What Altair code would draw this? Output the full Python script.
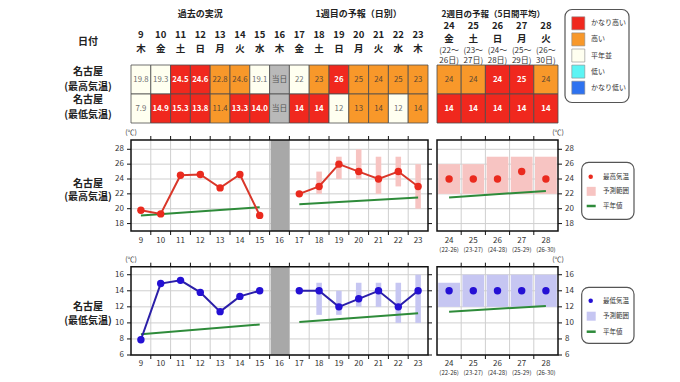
import altair as alt
import pandas as pd

FONT = "Noto Sans CJK JP"

# ---------------- values ----------------
past_days = [9, 10, 11, 12, 13, 14, 15]
today_day = 16
fc_days = [17, 18, 19, 20, 21, 22, 23]
wk2_days = [24, 25, 26, 27, 28]
wk2_from = [22, 23, 24, 25, 26]
wk2_to = [26, 27, 28, 29, 30]
weekdays_wk1 = ["木", "金", "土", "日", "月", "火", "水", "木", "金", "土", "日", "月", "火", "水", "木"]
weekdays_wk2 = ["金", "土", "日", "月", "火"]

max_obs = [19.8, 19.3, 24.5, 24.6, 22.8, 24.6, 19.1]
min_obs = [7.9, 14.9, 15.3, 13.8, 11.4, 13.3, 14.0]
max_fc = [22, 23, 26, 25, 24, 25, 23]
min_fc = [14, 14, 12, 13, 14, 12, 14]
max_fc_lo = [None, 22, 24, 24, 22, 23, 20]
max_fc_hi = [None, 25, 27, 28, 27, 27, 26]
min_fc_lo = [None, 11, 11, 12, 12, 10, 10]
min_fc_hi = [None, 15, 14, 15, 15, 15, 16]
max_wk2 = [24, 24, 24, 25, 24]
max_wk2_lo = [22, 22, 22, 22, 22]
max_wk2_hi = [26, 26, 27, 27, 27]
min_wk2 = [14, 14, 14, 14, 14]
min_wk2_lo = [12, 12, 12, 12, 12]
min_wk2_hi = [15, 16, 16, 16, 16]

# normal values (first and last day of each period)
max_norm_past = [19.1, 20.2]
max_norm_wk1 = [20.6, 21.5]
max_norm_wk2 = [21.5, 22.4]
min_norm_past = [8.6, 9.8]
min_norm_wk1 = [10.1, 11.2]
min_norm_wk2 = [11.4, 12.1]

cat_names = ["かなり高い", "高い", "平年並", "低い", "かなり低い"]
today_name = "当日"
max_cls_past = ["平年並", "平年並", "かなり高い", "かなり高い", "高い", "高い", "平年並"]
max_cls_fc = ["平年並", "高い", "かなり高い", "高い", "高い", "高い", "高い"]
min_cls_past = ["平年並", "かなり高い", "かなり高い", "かなり高い", "高い", "かなり高い", "かなり高い"]
min_cls_fc = ["かなり高い", "かなり高い", "平年並", "高い", "高い", "平年並", "高い"]
max_cls_wk2 = ["高い", "高い", "かなり高い", "かなり高い", "高い"]
min_cls_wk2 = ["かなり高い", "かなり高い", "かなり高い", "かなり高い", "かなり高い"]

station = "名古屋"
elem_max = "(最高気温)"
elem_min = "(最低気温)"
leg_max = ["最高気温", "予測範囲", "平年値"]
leg_min = ["最低気温", "予測範囲", "平年値"]

# ---------------- styles / layout ----------------
CELL_COLORS = ["#F0281E", "#F8982A", "#FFFFF0", "#5CF4F4", "#2E72F0", "#B9B9B9"]
TEXT_COLORS = ["#FFFFFF", "#5B4632", "#707070", "#333333", "#FFFFFF", "#555555"]
FILL_SCALE = alt.Scale(domain=cat_names + [today_name], range=CELL_COLORS)
TEXT_SCALE = alt.Scale(domain=cat_names + [today_name], range=TEXT_COLORS)
GRID = "#cfcfcf"
FRAME = "#111111"
AXT = "#333333"
GREEN = "#2E8B3A"
TODAY_BAND = "#A8A8A8"
RED_LINE, RED_PT, RED_RNG = "#D9372A", "#EA2A1E", "#F7C4C2"
BLU_LINE, BLU_PT, BLU_RNG = "#2B1FA8", "#2410D4", "#C6C6F2"

W0, W1, W2, W3, GAP, H = 114, 297, 121, 105, 9, 366
X1_DOM = [8.5, 23.5]
X2_DOM = [23.5, 28.5]
TBL_DOM, TBL_RNG = [0, 2], [57, 115]
UP_DOM, UP_RNG = [17, 29.25], [223, 132]
LO_DOM, LO_RNG = [6, 17], [347, 258.7]
UP_TICKS = [18, 20, 22, 24, 26, 28]
LO_TICKS = [6, 8, 10, 12, 14, 16]


def lin(dom, rng=None):
    kw = dict(domain=dom, nice=False, zero=False)
    if rng is not None:
        kw["range"] = rng
    return alt.Scale(**kw)


def table_df(days, max_cls, max_lab, min_cls, min_lab):
    recs = []
    for r, (cls, lab) in enumerate([(max_cls, max_lab), (min_cls, min_lab)]):
        for d, c, l in zip(days, cls, lab):
            recs.append({"day": d, "r": r, "cls": c, "lab": l})
    return pd.DataFrame(recs)


def table_layers(df, xsc):
    ysc = lin(TBL_DOM, TBL_RNG)
    base = alt.Chart(df).transform_calculate(
        x0="datum.day - 0.5", x1="datum.day + 0.5",
        y0="datum.r", y1="datum.r + 1", yc="datum.r + 0.5")
    rect = base.mark_rect(stroke="#4d4d4d", strokeWidth=0.8).encode(
        x=alt.X("x0:Q", scale=xsc, axis=None), x2="x1:Q",
        y=alt.Y("y0:Q", scale=ysc, axis=None), y2="y1:Q",
        fill=alt.Fill("cls:N", scale=FILL_SCALE, legend=None))

    def txt(bold):
        f = "datum.cls == 'かなり高い'" if bold else "datum.cls != 'かなり高い'"
        return base.transform_filter(f).mark_text(
            font=FONT, fontSize=7.8, fontWeight="bold" if bold else "normal").encode(
            x=alt.X("day:Q", scale=xsc, axis=None),
            y=alt.Y("yc:Q", scale=ysc, axis=None), text="lab:N",
            color=alt.Color("cls:N", scale=TEXT_SCALE, legend=None))
    return [rect, txt(True), txt(False)]


def panel(xsc, xdom, ydom, yrng, yticks, days_lab, sublab, line_df, pts_df,
          rng_df, halfw, norm_df, col_line, col_pt, col_rng, side, lab_dy,
          today=None, left_ticks=True, right_ticks=True):
    ysc = lin(ydom, yrng)
    X = lambda f: alt.X(f, scale=xsc, axis=None)
    Y = lambda f: alt.Y(f, scale=ysc, axis=None)
    L = []
    vgrid = [d + 0.5 for d in days_lab[:-1]]
    gv = pd.DataFrame({"g": vgrid, "y0": ydom[0], "y1": ydom[1]})
    L.append(alt.Chart(gv).mark_rule(color=GRID, strokeWidth=1).encode(
        x=X("g:Q"), y=Y("y0:Q"), y2="y1:Q"))
    gh = pd.DataFrame({"v": yticks, "x0": xdom[0], "x1": xdom[1]})
    L.append(alt.Chart(gh).mark_rule(color=GRID, strokeWidth=1).encode(
        x=X("x0:Q"), x2="x1:Q", y=Y("v:Q")))
    if today is not None:
        tb = pd.DataFrame({"d": [today], "y0": [ydom[0]], "y1": [ydom[1]]})
        L.append(alt.Chart(tb).transform_calculate(
            x0="datum.d - 0.45", x1="datum.d + 0.5").mark_rect(color=TODAY_BAND).encode(
            x=X("x0:Q"), x2="x1:Q", y=Y("y0:Q"), y2="y1:Q"))
    L.append(alt.Chart(rng_df).transform_calculate(
        x0=f"datum.day - {halfw}", x1=f"datum.day + {halfw}").mark_rect(
        color=col_rng, opacity=1).encode(x=X("x0:Q"), x2="x1:Q", y=Y("lo:Q"), y2="hi:Q"))
    L.append(alt.Chart(norm_df).mark_line(color=GREEN, strokeWidth=2).encode(
        x=X("day:Q"), y=Y("v:Q"), detail="seg:N"))
    if line_df is not None:
        L.append(alt.Chart(line_df).mark_line(color=col_line, strokeWidth=2).encode(
            x=X("day:Q"), y=Y("v:Q"), detail="seg:N"))
    L.append(alt.Chart(pts_df).mark_circle(color=col_pt, size=55, opacity=1).encode(
        x=X("day:Q"), y=Y("v:Q")))
    fr = pd.DataFrame({"x0": [xdom[0]], "x1": [xdom[1]], "y0": [ydom[0]], "y1": [ydom[1]]})
    L.append(alt.Chart(fr).mark_rect(fillOpacity=0, stroke=FRAME, strokeWidth=1.5).encode(
        x=X("x0:Q"), x2="x1:Q", y=Y("y0:Q"), y2="y1:Q"))
    tk = pd.DataFrame({"g": vgrid, "yt": ydom[1], "yb": ydom[0]})
    L.append(alt.Chart(tk).mark_rule(color=FRAME, y2Offset=-4).encode(
        x=X("g:Q"), y=Y("yt:Q"), y2="yt:Q"))
    L.append(alt.Chart(tk).mark_rule(color=FRAME, y2Offset=4).encode(
        x=X("g:Q"), y=Y("yb:Q"), y2="yb:Q"))
    yt = pd.DataFrame({"v": yticks, "xl": xdom[0], "xr": xdom[1]})
    if left_ticks:
        L.append(alt.Chart(yt).mark_rule(color=FRAME, x2Offset=-4).encode(
            x=X("xl:Q"), x2="xl:Q", y=Y("v:Q")))
    if right_ticks:
        L.append(alt.Chart(yt).mark_rule(color=FRAME, x2Offset=4).encode(
            x=X("xr:Q"), x2="xr:Q", y=Y("v:Q")))
    if side == "left":
        L.append(alt.Chart(yt).mark_text(font=FONT, fontSize=8, color=AXT, align="right", dx=-7).encode(
            x=X("xl:Q"), y=Y("v:Q"), text=alt.Text("v:Q", format="d")))
        unit_x = "xl"
    else:
        L.append(alt.Chart(yt).mark_text(font=FONT, fontSize=8, color=AXT, align="left", dx=7).encode(
            x=X("xr:Q"), y=Y("v:Q"), text=alt.Text("v:Q", format="d")))
        unit_x = "xr"
    un = pd.DataFrame({"xl": [xdom[0]], "xr": [xdom[1]], "y": [ydom[1]], "t": ["(℃)"]})
    L.append(alt.Chart(un).mark_text(font=FONT, fontSize=7, color=AXT, dy=-7).encode(
        x=X(f"{unit_x}:Q"), y=Y("y:Q"), text="t:N"))
    xl = pd.DataFrame({"day": days_lab, "yb": ydom[0]})
    L.append(alt.Chart(xl).mark_text(font=FONT, fontSize=8, color=AXT, dy=lab_dy).encode(
        x=X("day:Q"), y=Y("yb:Q"), text=alt.Text("day:Q", format="d")))
    if sublab is not None:
        sl = pd.DataFrame({"day": days_lab, "yb": ydom[0], "s": sublab})
        L.append(alt.Chart(sl).mark_text(font=FONT, fontSize=6, color=AXT, dy=lab_dy + 9).encode(
            x=X("day:Q"), y=Y("yb:Q"), text="s:N"))
    return L


def series_df(parts):
    recs = []
    for seg, days, vals in parts:
        for d, v in zip(days, vals):
            recs.append({"day": d, "v": v, "seg": seg})
    return pd.DataFrame(recs)


def range_df(days, lo, hi):
    return pd.DataFrame([{"day": d, "lo": a, "hi": b} for d, a, b in zip(days, lo, hi) if a is not None])


def ends(days):
    return [days[0], days[-1]]


# ---------------- column 1: past + week 1 ----------------
xs1 = lin(X1_DOM)
wk1_days = past_days + [today_day] + fc_days
c1_layers = []
c1_layers += table_layers(table_df(
    wk1_days,
    max_cls_past + [today_name] + max_cls_fc,
    [f"{v:.1f}" for v in max_obs] + [today_name] + [f"{v}" for v in max_fc],
    min_cls_past + [today_name] + min_cls_fc,
    [f"{v:.1f}" for v in min_obs] + [today_name] + [f"{v}" for v in min_fc]), xs1)
hdr1 = pd.DataFrame({"x": [sum(past_days) / len(past_days), sum(fc_days) / len(fc_days)],
                     "t": ["過去の実況", "1週目の予報（日別）"]})
c1_layers.append(alt.Chart(hdr1).mark_text(font=FONT, fontSize=9, fontWeight="bold", color="#222").encode(
    x=alt.X("x:Q", scale=xs1, axis=None), y=alt.value(5.8), text="t:N"))
dn1 = pd.DataFrame({"day": wk1_days, "wd": weekdays_wk1})
c1_layers.append(alt.Chart(dn1).mark_text(font=FONT, fontSize=9.5, fontWeight="bold", color="#222").encode(
    x=alt.X("day:Q", scale=xs1, axis=None), y=alt.value(27.3), text=alt.Text("day:Q", format="d")))
c1_layers.append(alt.Chart(dn1).mark_text(font=FONT, fontSize=9.5, fontWeight="bold", color="#222").encode(
    x=alt.X("day:Q", scale=xs1, axis=None), y=alt.value(40.7), text="wd:N"))

c1_layers += panel(
    xs1, X1_DOM, UP_DOM, UP_RNG, UP_TICKS, wk1_days, None,
    series_df([("obs", past_days, max_obs), ("fc", fc_days, max_fc)]),
    series_df([("obs", past_days, max_obs), ("fc", fc_days, max_fc)]),
    range_df(fc_days, max_fc_lo, max_fc_hi), 0.14,
    series_df([("p", ends(past_days), max_norm_past), ("w", ends(fc_days), max_norm_wk1)]),
    RED_LINE, RED_PT, RED_RNG, "left", 9.5, today=today_day)
c1_layers += panel(
    xs1, X1_DOM, LO_DOM, LO_RNG, LO_TICKS, wk1_days, None,
    series_df([("obs", past_days, min_obs), ("fc", fc_days, min_fc)]),
    series_df([("obs", past_days, min_obs), ("fc", fc_days, min_fc)]),
    range_df(fc_days, min_fc_lo, min_fc_hi), 0.14,
    series_df([("p", ends(past_days), min_norm_past), ("w", ends(fc_days), min_norm_wk1)]),
    BLU_LINE, BLU_PT, BLU_RNG, "left", 8.5, today=today_day)

# ---------------- column 2: week 2 ----------------
xs2 = lin(X2_DOM)
c2_layers = []
c2_layers += table_layers(table_df(
    wk2_days, max_cls_wk2, [f"{v}" for v in max_wk2],
    min_cls_wk2, [f"{v}" for v in min_wk2]), xs2)
hdr2 = pd.DataFrame({"x": [X2_DOM[0]], "t": ["2週目の予報（5日間平均）"]})
c2_layers.append(alt.Chart(hdr2).mark_text(font=FONT, fontSize=8.5, fontWeight="bold", color="#222",
                                           align="left", dx=4.5).encode(
    x=alt.X("x:Q", scale=xs2, axis=None), y=alt.value(5.5), text="t:N"))
dn2 = pd.DataFrame({"day": wk2_days, "wd": weekdays_wk2,
                    "a": [f"({s}～" for s in wk2_from], "b": [f"{e}日)" for e in wk2_to]})
c2_layers.append(alt.Chart(dn2).mark_text(font=FONT, fontSize=9.5, fontWeight="bold", color="#222").encode(
    x=alt.X("day:Q", scale=xs2, axis=None), y=alt.value(18.4), text=alt.Text("day:Q", format="d")))
c2_layers.append(alt.Chart(dn2).mark_text(font=FONT, fontSize=9.5, fontWeight="bold", color="#222").encode(
    x=alt.X("day:Q", scale=xs2, axis=None), y=alt.value(31), text="wd:N"))
c2_layers.append(alt.Chart(dn2).mark_text(font=FONT, fontSize=8, color="#333").encode(
    x=alt.X("day:Q", scale=xs2, axis=None), y=alt.value(42.9), text="a:N"))
c2_layers.append(alt.Chart(dn2).mark_text(font=FONT, fontSize=8, color="#333").encode(
    x=alt.X("day:Q", scale=xs2, axis=None), y=alt.value(52.7), text="b:N"))

sub2 = [f"({s}-{e})" for s, e in zip(wk2_from, wk2_to)]
c2_layers += panel(
    xs2, X2_DOM, UP_DOM, UP_RNG, UP_TICKS, wk2_days, sub2,
    None, series_df([("w2", wk2_days, max_wk2)]),
    range_df(wk2_days, max_wk2_lo, max_wk2_hi), 0.45,
    series_df([("w2", ends(wk2_days), max_norm_wk2)]),
    RED_LINE, RED_PT, RED_RNG, "right", 9.5, left_ticks=False)
c2_layers += panel(
    xs2, X2_DOM, LO_DOM, LO_RNG, LO_TICKS, wk2_days, sub2,
    None, series_df([("w2", wk2_days, min_wk2)]),
    range_df(wk2_days, min_wk2_lo, min_wk2_hi), 0.45,
    series_df([("w2", ends(wk2_days), min_norm_wk2)]),
    BLU_LINE, BLU_PT, BLU_RNG, "right", 8.5, left_ticks=False)

# ---------------- column 0: row labels ----------------
def label(t, y):
    return alt.Chart(pd.DataFrame({"t": [t]})).mark_text(
        font=FONT, fontSize=10, fontWeight="bold", color="#222").encode(
        text="t:N", x=alt.value(80), y=alt.value(y))


c0_layers = [label("日付", 33.7),
             label(station, 64.2), label(elem_max, 78.5),
             label(station, 92.2), label(elem_min, 106.5),
             label(station, 175.8), label(elem_max, 189.3),
             label(station, 299.2), label(elem_min, 313)]

# ---------------- column 3: legends ----------------
def box(x0, x1, y0, y1):
    return alt.Chart(pd.DataFrame({"a": [0]})).mark_rect(
        fill="white", stroke="#555", strokeWidth=1.2, cornerRadius=7).encode(
        x=alt.value(x0), x2=alt.value(x1), y=alt.value(y0), y2=alt.value(y1))


c3_layers = [box(-2, 62, 1.5, 94.5)]
cat_y = alt.Y("cat:N", scale=alt.Scale(type="point", domain=cat_names, range=[15.3, 79.7], padding=0), axis=None)
cdf = pd.DataFrame({"cat": cat_names})
c3_layers.append(alt.Chart(cdf).mark_square(size=169, stroke="#888", strokeWidth=0.6, opacity=1).encode(
    x=alt.value(11.3), y=cat_y, fill=alt.Fill("cat:N", scale=FILL_SCALE, legend=None)))
c3_layers.append(alt.Chart(cdf).mark_text(font=FONT, fontSize=7, color="#333", align="left").encode(
    x=alt.value(24), y=cat_y, text="cat:N"))


def chart_legend(items, y0, y1, by0, by1, dot_col, rng_col):
    yy = alt.Y("it:N", scale=alt.Scale(type="point", domain=items, range=[y0, y1], padding=0), axis=None)
    out = [box(14.7, 67, by0, by1)]
    out.append(alt.Chart(pd.DataFrame({"it": [items[0]]})).mark_circle(size=20, color=dot_col, opacity=1).encode(
        x=alt.value(23.7), y=yy))
    out.append(alt.Chart(pd.DataFrame({"it": [items[1]]})).mark_square(size=81, color=rng_col, opacity=1).encode(
        x=alt.value(24.2), y=yy))
    out.append(alt.Chart(pd.DataFrame({"it": [items[2]]})).mark_rule(color=GREEN, strokeWidth=2.5).encode(
        x=alt.value(19.7), x2=alt.value(28.7), y=yy))
    out.append(alt.Chart(pd.DataFrame({"it": items})).mark_text(font=FONT, fontSize=6.5, color="#333", align="left").encode(
        x=alt.value(36), y=yy, text="it:N"))
    return out


c3_layers += chart_legend(leg_max, 168.7, 198, 154.3, 211.3, RED_PT, RED_RNG)
c3_layers += chart_legend(leg_min, 292.7, 323.7, 279.3, 335.3, BLU_PT, BLU_RNG)

c0 = alt.layer(*c0_layers).properties(width=W0, height=H)
c1 = alt.layer(*c1_layers).resolve_scale(y="independent").properties(width=W1, height=H)
c2 = alt.layer(*c2_layers).resolve_scale(y="independent").properties(width=W2, height=H)
c3 = alt.layer(*c3_layers).resolve_scale(y="independent").properties(width=W3, height=H)

chart = alt.hconcat(c0, c1, c2, c3, spacing=GAP, bounds="flush").resolve_scale(
    x="independent", y="independent").properties(padding=0).configure_view(stroke=None)

chart.save("out.html", embed_options={"renderer": "svg", "actions": False})
